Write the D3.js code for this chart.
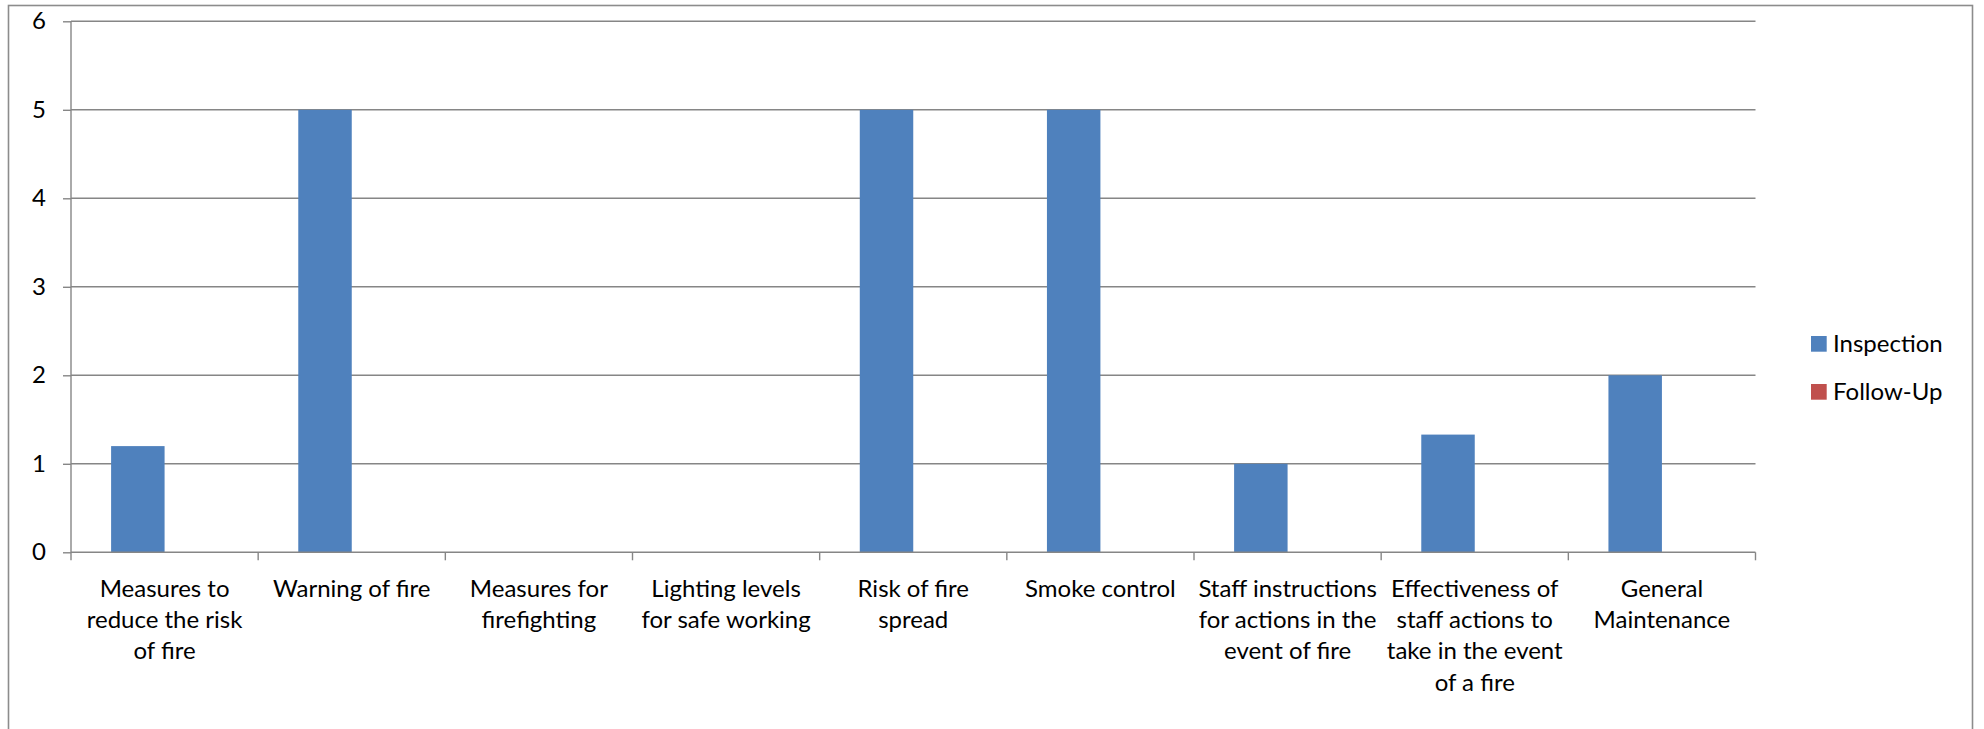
<!DOCTYPE html>
<html><head><meta charset="utf-8">
<script src="https://cdn.jsdelivr.net/npm/d3@7"></script>
<style>html,body{margin:0;padding:0;background:#fff;overflow:hidden}</style>
</head><body>
<svg id="chart" width="1984" height="729"></svg>
<script>
const categories = ["Measures to reduce the risk of fire","Warning of fire","Measures for firefighting","Lighting levels for safe working","Risk of fire spread","Smoke control","Staff instructions for actions in the event of fire","Effectiveness of staff actions to take in the event of a fire","General Maintenance"];
const categoryLines = [["Measures to","reduce the risk","of fire"],["Warning of fire"],["Measures for","firefighting"],["Lighting levels","for safe working"],["Risk of fire","spread"],["Smoke control"],["Staff instructions","for actions in the","event of fire"],["Effectiveness of","staff actions to","take in the event","of a fire"],["General","Maintenance"]];
const seriesNames = ["Inspection","Follow-Up"];
const inspection = [1.2, 5, 0, 0, 5, 5, 1, 1.33, 2];
const followUp = [0, 0, 0, 0, 0, 0, 0, 0, 0];
const yTicks = [0,1,2,3,4,5,6];
const colors = ["#4F81BD","#C0504D"];

const svg = d3.select("#chart");
const font = "Lato, 'Open Sans', sans-serif";
const gridColor = "#868686";

// outer border
svg.append("rect").attr("x",8.5).attr("y",5.5).attr("width",1964).attr("height",740)
  .attr("fill","none").attr("stroke","#8c8c8c").attr("stroke-width",1.6);

const L = 71, R = 1755.5, T = 21.3, B = 552.3;
const x0 = d3.scaleBand().domain(categories).range([L,R]).paddingInner(0).paddingOuter(0);
const x1 = d3.scaleBand().domain(seriesNames).range([0,x0.bandwidth()]).paddingInner(0).paddingOuter(0.75);
const y = d3.scaleLinear().domain([0,6]).range([B,T]);

// gridlines
svg.append("g").selectAll("line").data(yTicks.filter(d=>d>0)).join("line")
  .attr("x1",L).attr("x2",R).attr("y1",d=>y(d)).attr("y2",d=>y(d))
  .attr("stroke",gridColor).attr("stroke-width",1.4);

// bars
const data = categories.map((c,i)=>({c, vals:[inspection[i], followUp[i]]}));
const g = svg.append("g");
data.forEach(d=>{
  d.vals.forEach((v,j)=>{
    if (v<=0) return;
    g.append("rect")
      .attr("x", x0(d.c)+x1(seriesNames[j]))
      .attr("width", x1.bandwidth())
      .attr("y", y(v))
      .attr("height", y(0)-y(v))
      .attr("fill", colors[j]);
  });
});

// y axis
const yAxis = d3.axisLeft(y).tickValues(yTicks).tickSize(8).tickPadding(17).tickFormat(d3.format("d"));
const ya = svg.append("g").attr("transform",`translate(${L},0)`).call(yAxis);
ya.selectAll("path,line").attr("stroke",gridColor).attr("stroke-width",1.4);
ya.select(".domain").attr("d",`M-8,${T}H0V${B}`).attr("d",`M0,${T}V${B}`);
ya.selectAll("text").attr("font-family",font).attr("font-size",24).attr("fill","#000");

// x axis
const xa = svg.append("g").attr("transform",`translate(0,${B})`);
xa.append("line").attr("x1",L).attr("x2",R).attr("y1",0).attr("y2",0).attr("stroke",gridColor).attr("stroke-width",1.4);
const bounds = categories.map(c=>x0(c)).concat([R]);
xa.selectAll("line.tk").data(bounds).join("line").attr("class","tk")
  .attr("x1",d=>d).attr("x2",d=>d).attr("y1",0).attr("y2",8).attr("stroke",gridColor).attr("stroke-width",1.4);
categories.forEach((c,i)=>{
  const t = xa.append("text").attr("x", x0(c)+x0.bandwidth()/2).attr("y",36)
    .attr("text-anchor","middle").attr("font-family",font).attr("font-size",24).attr("fill","#000");
  categoryLines[i].forEach((ln,k)=>{
    t.append("tspan").attr("x", x0(c)+x0.bandwidth()/2).attr("dy", k===0?"0.35em":31.3).text(ln);
  });
});

// legend
const lg = svg.append("g").attr("transform","translate(1811,336)");
seriesNames.forEach((s,i)=>{
  lg.append("rect").attr("x",0).attr("y",i*48).attr("width",15.7).attr("height",15.7).attr("fill",colors[i]);
  lg.append("text").attr("x",22).attr("y",i*48+8).attr("dy","0.35em")
    .attr("font-family",font).attr("font-size",24).attr("fill","#000").text(s);
});
</script>
</body></html>
